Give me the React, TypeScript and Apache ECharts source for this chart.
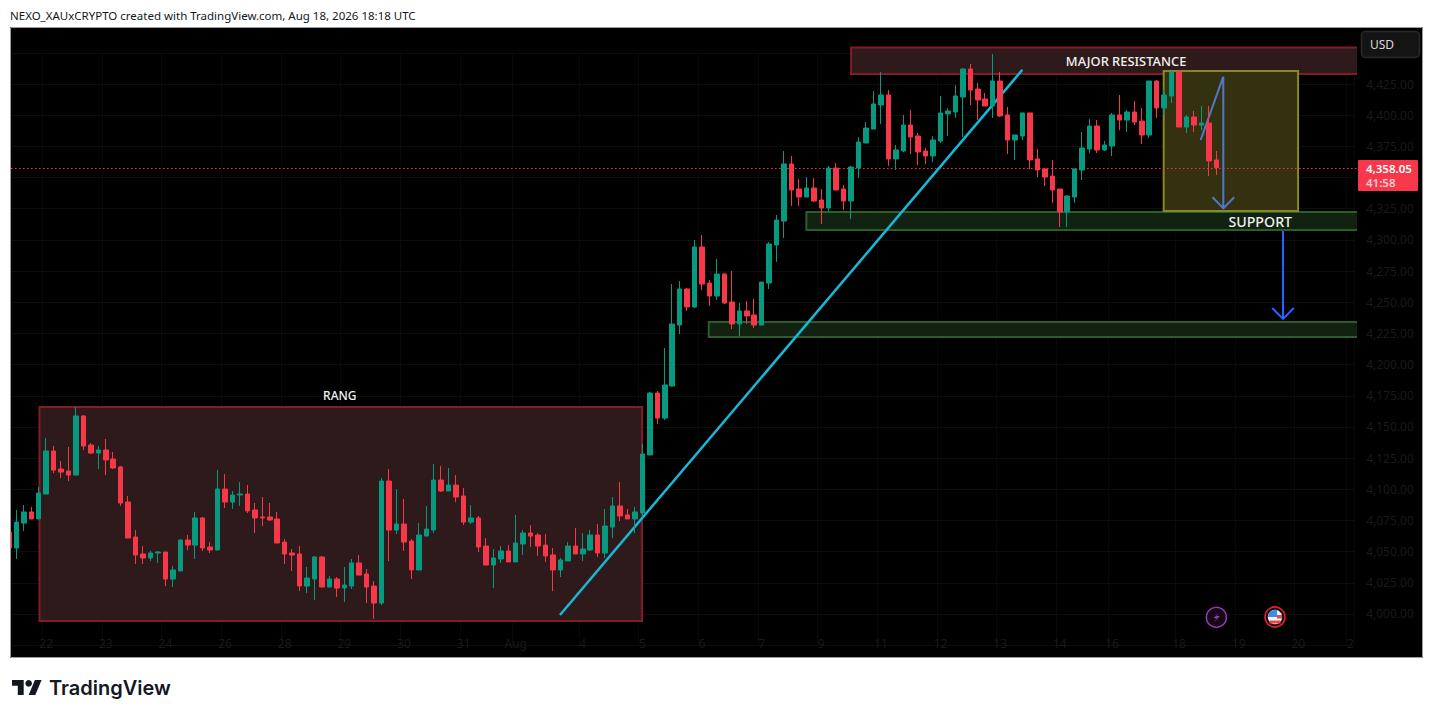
import React, { useEffect, useRef } from "react";
import * as echarts from "echarts";

// [open, close, low, high]
const candlesJuly22to26 = [
  [4065.7,4052.9,4045,4068],[4052.9,4073.7,4044.1,4083.4],[4072.9,4081.8,4066.5,4087.4],[4081.8,4076.2,4076.2,4085.8],
  [4076.2,4097,4076.2,4101.8],[4096.2,4130.7,4096.2,4141.1],[4130.7,4115.4,4113,4134.7],[4116.2,4113.8,4109,4122.7],
  [4114.6,4111.4,4106.6,4133.9],[4111.4,4158.8,4111.4,4166],[4158.8,4134.7,4131.5,4159.6],[4135.5,4129.1,4128.3,4137.1],
  [4129.1,4131.5,4116.2,4134.7],[4131.5,4123.5,4111.4,4140.3],[4124.3,4117.1,4116.2,4129.9],[4117.9,4089,4086.6,4118.7],
  [4089.8,4060.9,4060.9,4094.6],[4061.7,4047.3,4040.1,4067.3],[4048.1,4044.9,4040.1,4054.5],[4044.9,4048.9,4042.5,4050.5],
  [4048.9,4049.7,4040.9,4050.5],[4049.7,4028,4022.4,4049.7],[4028,4035.3,4021.6,4038.5],[4034.5,4059.3,4034.5,4060.1],
  [4059.3,4055.3,4051.3,4063.3],[4055.3,4077,4044.1,4081.8],[4077,4052.9,4050.5,4077.8],[4053.7,4051.3,4048.9,4057.7],
  [4051.3,4100.2,4051.3,4115.4],[4100.2,4089.8,4085,4112.2],[4089.8,4095.4,4084.2,4098.6],[4095.4,4096.2,4086.6,4105.8],
  [4096.2,4082.6,4081,4103.4],[4083.4,4077,4064.9,4089],[4077.8,4077,4070.5,4093.8],[4077.8,4075.4,4074.6,4089],
  [4076.2,4056.9,4056.9,4081.8],[4057.7,4048.1,4040.1,4060.1],[4048.9,4047.3,4034.5,4052.1],[4048.1,4022.4,4018.4,4054.5],
  [4022.4,4028.8,4016.8,4037.7],[4028,4045.7,4011.2,4046.5],[4045.7,4021.6,4021.6,4046.5],[4021.6,4028,4021.6,4030.4],
];
const candlesJuly28toAug5 = [
  [4028,4020.8,4013.6,4029.6],[4020.8,4023.2,4009.6,4037.7],[4022.4,4040.9,4020,4044.1],[4040.9,4031.2,4031.2,4047.3],
  [4032.1,4021.6,4008.8,4036.1],[4022.4,4008.8,3996,4026.4],[4008.8,4106.6,4007.2,4109],[4106.6,4067.3,4042.5,4116.2],
  [4067.3,4072.1,4064.1,4100.2],[4072.1,4057.7,4050.5,4092.2],[4058.5,4035.3,4028,4060.1],[4035.3,4063.3,4035.3,4072.9],
  [4062.5,4068.1,4062.5,4086.6],[4067.3,4107.4,4064.9,4120.3],[4107.4,4098.6,4097.8,4118.7],[4098.6,4103.4,4098.6,4117.1],
  [4103.4,4093.8,4089.8,4111.4],[4094.6,4073.7,4071.3,4101],[4073.7,4077,4072.1,4087.4],[4077,4053.7,4049.7,4078.6],
  [4054.5,4039.3,4039.3,4060.9],[4039.3,4044.9,4020.8,4052.1],[4044.1,4050.5,4040.9,4054.5],[4050.5,4041.7,4041.7,4055.3],
  [4041.7,4056.9,4041.7,4079.4],[4056.1,4064.9,4047.3,4067.3],[4064.9,4062.5,4053.7,4071.3],[4063.3,4054.5,4046.5,4064.9],
  [4055.3,4046.5,4041.7,4064.1],[4047.3,4035.3,4018.4,4052.9],[4035.3,4043.3,4029.6,4044.9],[4042.5,4054.5,4042.5,4057.7],
  [4054.5,4048.1,4048.1,4068.9],[4048.1,4052.1,4042.5,4064.9],[4051.3,4063.3,4050.5,4067.3],[4063.3,4048.9,4045.7,4072.1],
  [4048.9,4070.5,4044.9,4084.2],[4069.7,4086.6,4060.9,4093.8],[4086.6,4078.6,4074.6,4105.8],[4079.4,4076.2,4076.2,4084.2],
  [4076.2,4081.8,4064.9,4085.8],[4081,4128.3,4078,4136.3],
];
const candlesAug5to9 = [
  [4127.5,4177.2,4127.5,4178],[4177.2,4157.1,4152.3,4178.8],[4157.1,4183.6,4155.5,4213.3],[4182.8,4232.5,4182.8,4264.6],
  [4231.7,4260.6,4224.5,4267],[4260.6,4246.2,4243,4261.4],[4246.2,4294.3,4245.4,4299.9],[4294.3,4264.6,4259.8,4303.9],
  [4265.4,4255,4247,4267.8],[4255,4272.6,4251.8,4284.7],[4272.6,4249.4,4248.6,4273.4],[4250.2,4232.6,4228.5,4275.1],
  [4232.6,4243,4222.9,4249.4],[4243,4239,4232.6,4251],[4239.8,4231.7,4229.3,4252.6],[4231.7,4266.2,4231.7,4266.2],
  [4265.4,4296.7,4260.6,4298.3],[4295.9,4315.9,4282.3,4320],[4315.1,4360.9,4301.5,4371.3],[4360.9,4340,4327.2,4367.3],
  [4340.8,4334.4,4327.2,4348.8],[4334.4,4341.6,4334.4,4350.4],[4341.6,4331.2,4330.4,4349.6],[4332,4325.6,4312.7,4340.8],
  [4325.6,4357.6,4323.2,4359.3],[4357.6,4340,4340,4361.7],[4340.8,4331.2,4324,4344],[4331.2,4358.4,4316.7,4359.3],
];
const candlesAug11to18 = [
  [4357.7,4378.5,4349.6,4382.5],[4377.7,4389.7,4377.7,4394.5],[4388.9,4409,4388.9,4419.4],[4408.2,4416.2,4392.9,4434.6],
  [4416.2,4364.9,4359.3,4420.2],[4364.9,4372.1,4356.1,4376.1],[4371.3,4392.1,4370.5,4400.2],[4392.1,4382.5,4368.9,4404.2],
  [4383.3,4370.5,4360.1,4385.7],[4371.3,4367.3,4360.9,4373.7],[4367.3,4380.1,4362.5,4383.3],[4379.3,4401.8,4377.7,4415.4],
  [4401,4403.4,4383.3,4405.8],[4402.6,4415.4,4397.8,4424.2],[4414.6,4437,4382.5,4437.8],[4437,4420.2,4408.2,4441.1],
  [4421,4412.2,4396.1,4425.8],[4413,4407.4,4407.4,4417.8],[4407.4,4427.4,4397.8,4449.1],[4427.4,4399.4,4398.6,4434.6],
  [4400.2,4380.1,4368.9,4406.6],[4380.1,4384.1,4364.1,4384.1],[4383.3,4401.8,4380.1,4401.8],[4401.8,4364.1,4356.9,4401.8],
  [4364.9,4356.1,4350.4,4372.9],[4356.9,4350.4,4343.2,4357.7],[4351.2,4340,4329.6,4364.1],[4340.8,4322.4,4310.3,4340.8],
  [4322.4,4335.2,4310.3,4336],[4334.4,4356.9,4329.6,4356.9],[4356.1,4373.7,4348,4386.5],[4372.9,4391.3,4369.7,4396.9],
  [4391.3,4372.1,4369.7,4396.1],[4372.1,4376.1,4371.3,4379.3],[4375.3,4400.2,4367.3,4401.8],[4400.2,4396.1,4388.1,4416.2],
  [4396.1,4402.6,4386.5,4404.2],[4402.6,4394.5,4392.1,4411.4],[4395.3,4384.1,4376.9,4405.8],[4384.1,4427.4,4381.7,4427.4],
  [4427.4,4405.8,4397.8,4428.2],[4405.8,4416.2,4400.2,4421],[4415.4,4434.6,4409.8,4434.6],[4434.6,4390.5,4390.5,4436.2],
  [4390.5,4398.6,4385.7,4400.2],[4398.6,4392.1,4386.5,4403.4],[4392.1,4393.7,4388.1,4407.4],[4393.7,4363.3,4351.2,4407.4],
  [4364.1,4358.05,4352,4371.3],
];

const xTickIndexes = [5, 13, 21, 29, 37, 45, 53, 61, 68, 77, 85, 93, 101, 109, 117, 125, 133, 141, 148, 157, 165, 173, 180];
const xTickLabels = ["22", "23", "24", "26", "28", "29", "30", "31", "Aug", "4", "5", "6", "7", "9", "11", "12", "13", "14", "16", "18", "19", "20", "2"];
const BAR_SLOTS = 181;
const RIGHT_EDGE = 180.88;

// drawings in bar-index / price coordinates: [x0, price0, x1, price1]
const rangBox = [4.1, 4166, 84.95, 3994.4];
const resistanceBox = [113, 4454.3, RIGHT_EDGE, 4433];
const supportBox = [107, 4322.4, RIGHT_EDGE, 4307.9];
const lowerSupportBox = [93.9, 4234.2, RIGHT_EDGE, 4222.1];
const positionBox = [154.94, 4435.4, 172.97, 4323.2];
const trendLine = [[73.94, 3999.2], [135.97, 4436.3]];
const swingPath = [[159.9, 4380.1], [162.94, 4430.9], [162.94, 4325.3]];
const swingHead = [[161.5, 4334.2], [162.94, 4325.3], [164.4, 4334.2]];
const targetPath = [[170.95, 4307.1], [170.95, 4236.6]];
const targetHead = [[169.5, 4245.4], [170.95, 4236.6], [172.4, 4245.4]];
const priceLine = [[0.2818, 4357.25], [RIGHT_EDGE, 4357.25]];

const RED = "#F7374A";
const GREEN = "#089981";
const TICK_TEXT = "#1a1a1a";
const AXIS_FONT = '"Noto Sans", sans-serif';
const LABEL_FONT = '"Noto Sans", sans-serif';

type Drawing =
  | { kind: "box"; v: number[]; fill: string; stroke: string; lw: number; openRight?: boolean }
  | { kind: "line"; pts: number[][]; stroke: string; lw: number; dash?: number[] }
  | { kind: "text"; at: number[]; text: string; size: number };

const drawings: Drawing[] = [
  { kind: "box", v: rangBox, fill: "#2F1A1B", stroke: "#801D26", lw: 2 },
  { kind: "box", v: resistanceBox, fill: "#2F1A1B", stroke: "#801D26", lw: 2, openRight: true },
  { kind: "box", v: supportBox, fill: "#112210", stroke: "#2B5E2A", lw: 2, openRight: true },
  { kind: "box", v: lowerSupportBox, fill: "#112210", stroke: "#2B5E2A", lw: 2, openRight: true },
  { kind: "box", v: positionBox, fill: "#33310F", stroke: "#8A8727", lw: 2 },
  { kind: "line", pts: priceLine, stroke: "#FF2E44", lw: 1, dash: [1.6, 2.4] },
  { kind: "line", pts: trendLine, stroke: "#17B8D8", lw: 2.5 },
  { kind: "line", pts: swingPath, stroke: "#5079CC", lw: 2 },
  { kind: "line", pts: swingHead, stroke: "#5079CC", lw: 2 },
  { kind: "line", pts: targetPath, stroke: "#2962FF", lw: 2 },
  { kind: "line", pts: targetHead, stroke: "#2962FF", lw: 2 },
  { kind: "text", at: [44.4, 4175.5], text: "RANG", size: 12 },
  { kind: "text", at: [149.9, 4443.5], text: "MAJOR RESISTANCE", size: 12.9 },
  { kind: "text", at: [167.9, 4315], text: "SUPPORT", size: 14.2 },
];

function renderDrawing(params: any, api: any) {
  const d = drawings[params.dataIndex];
  if (d.kind === "box") {
    const a = api.coord([d.v[0], d.v[1]]);
    const b = api.coord([d.v[2], d.v[3]]);
    const shape = { x: a[0], y: a[1], width: b[0] - a[0], height: b[1] - a[1] };
    if (d.openRight) {
      return {
        type: "group",
        children: [
          { type: "rect", shape, style: { fill: d.fill } },
          {
            type: "polyline",
            shape: { points: [[b[0], a[1]], [a[0], a[1]], [a[0], b[1]], [b[0], b[1]]] },
            style: { fill: "none", stroke: d.stroke, lineWidth: d.lw },
          },
        ],
      };
    }
    return { type: "rect", shape, style: { fill: d.fill, stroke: d.stroke, lineWidth: d.lw } };
  }
  if (d.kind === "line") {
    return {
      type: "polyline",
      shape: { points: d.pts.map((p) => api.coord(p)) },
      style: { fill: "none", stroke: d.stroke, lineWidth: d.lw, lineDash: d.dash },
    };
  }
  const c = api.coord(d.at);
  return {
    type: "text",
    x: c[0],
    y: c[1],
    style: {
      text: d.text,
      fill: "#F2F2F2",
      font: `500 ${d.size}px ${LABEL_FONT}`,
      align: "center",
      verticalAlign: "middle",
    },
  };
}

const logoPolys = [
  [[12, 680], [23.7, 680], [23.7, 695], [17.8, 695], [17.8, 685.8], [12, 685.8]],
  [[28.7, 695], [35.3, 695], [41.6, 680], [34.9, 680]],
];

export default function App() {
  const ref = useRef<HTMLDivElement>(null);
  useEffect(() => {
    document.body.style.margin = "0";
    document.body.style.background = "#fff";
    const chart = echarts.init(ref.current!, undefined, { renderer: "svg" });
    const candles = [...candlesJuly22to26, ...candlesJuly28toAug5, ...candlesAug5to9, ...candlesAug11to18];
    const categories = Array.from({ length: BAR_SLOTS }, (_, i) => {
      const k = xTickIndexes.indexOf(i);
      return k >= 0 ? xTickLabels[k] : "";
    });
    const isTick = (i: number) => xTickIndexes.indexOf(i) >= 0;
    chart.setOption({
      animation: false,
      backgroundColor: "#fff",
      grid: { left: 5.173, top: 52.85, width: 1349, height: 592.3, containLabel: false },
      xAxis: [
        {
          type: "category",
          data: categories,
          boundaryGap: true,
          axisLine: { show: false },
          axisTick: { show: false },
          axisLabel: {
            interval: 0,
            margin: -8,
            color: TICK_TEXT,
            fontSize: 12,
            fontFamily: AXIS_FONT,
          },
          splitLine: { show: true, interval: (i: number) => isTick(i), lineStyle: { color: "#090909", width: 1 } },
        },
        { type: "value", min: -0.5, max: 180.5, show: false, splitLine: { show: false } },
      ],
      yAxis: {
        type: "value",
        position: "right",
        min: 3975,
        max: 4450,
        interval: 25,
        axisLine: { show: false },
        axisTick: { show: false },
        axisLabel: {
          margin: 12,
          color: TICK_TEXT,
          fontSize: 12,
          fontFamily: AXIS_FONT,
          // 3975 and 4450 sit under the date row and the USD button; 4350 under the price tag
          formatter: (v: number) =>
            v === 3975 || v === 4450 || v === 4350
              ? ""
              : v.toLocaleString("en-US", { minimumFractionDigits: 2, maximumFractionDigits: 2 }),
        },
        splitLine: { show: true, lineStyle: { color: "#0d0d0d", width: 1 } },
      },
      series: [
        {
          type: "custom",
          xAxisIndex: 1,
          yAxisIndex: 0,
          z: 1,
          clip: false,
          silent: true,
          renderItem: renderDrawing,
          data: drawings.map((_, i) => [i, 4200]),
        },
        {
          type: "candlestick",
          xAxisIndex: 0,
          yAxisIndex: 0,
          z: 3,
          barWidth: 5,
          clip: true,
          data: candles,
          itemStyle: { color: GREEN, borderColor: GREEN, color0: RED, borderColor0: RED, borderWidth: 1 },
        },
      ],
      graphic: [
        { type: "rect", z: -1, silent: true, shape: { x: 10, y: 27, width: 1413, height: 631 }, style: { fill: "#000" } },
        { type: "rect", z: 50, silent: true, shape: { x: 0, y: 27, width: 10, height: 631 }, style: { fill: "#fff" } },
        {
          type: "rect",
          z: 51,
          silent: true,
          shape: { x: 10.5, y: 27.5, width: 1412, height: 630 },
          style: { fill: "none", stroke: "#9B9B9B", lineWidth: 1 },
        },
        {
          type: "text",
          z: 51,
          x: 10,
          y: 15,
          style: {
            text: "NEXO_XAUxCRYPTO created with TradingView.com, Aug 18, 2026 18:18 UTC",
            fill: "#131722",
            font: '11.5px "Noto Sans", sans-serif',
            verticalAlign: "middle",
          },
        },
        {
          type: "rect",
          z: 51,
          shape: { x: 1361.5, y: 31.5, width: 58, height: 26, r: 4 },
          style: { fill: "#141414", stroke: "#2A2A2A", lineWidth: 1.5 },
        },
        { type: "text", z: 52, x: 1370, y: 44.5, style: { text: "USD", fill: "#DBDBDB", font: `12px ${AXIS_FONT}`, verticalAlign: "middle" } },
        { type: "rect", z: 51, shape: { x: 1358, y: 160, width: 60, height: 31, r: 1 }, style: { fill: RED } },
        { type: "text", z: 52, x: 1366, y: 168.5, style: { text: "4,358.05", fill: "#fff", font: `600 11.5px ${AXIS_FONT}`, verticalAlign: "middle", lineHeight: 12 } },
        { type: "text", z: 52, x: 1366, y: 182.5, style: { text: "41:58", fill: "#FFD0D5", font: `600 11.5px ${AXIS_FONT}`, verticalAlign: "middle", lineHeight: 12 } },
        { type: "circle", z: 51, shape: { cx: 1216.4, cy: 617.3, r: 10 }, style: { fill: "#160A1A", stroke: "#943AAE", lineWidth: 1.5 } },
        {
          type: "polygon",
          z: 52,
          shape: { points: [[1219.3, 612.7], [1213.3, 618.3], [1216.7, 618.3], [1214, 622.3], [1220, 616], [1216.7, 616]] },
          style: { fill: "#943AAE" },
        },
        { type: "circle", z: 51, shape: { cx: 1275, cy: 617, r: 10 }, style: { fill: "#111", stroke: "#E5202E", lineWidth: 1.6 } },
        { type: "circle", z: 52, shape: { cx: 1275, cy: 617, r: 7.2 }, style: { fill: "#F5F5F5" } },
        {
          type: "polygon",
          z: 53,
          shape: { points: [[1268, 617], [1268.5, 614], [1270, 612], [1272.5, 610.3], [1275, 609.9], [1277, 610.1], [1277, 617]] },
          style: { fill: "#3D8BEF" },
        },
        { type: "rect", z: 53, shape: { x: 1277, y: 615, width: 5, height: 3.5 }, style: { fill: "#E8484E" } },
        { type: "rect", z: 53, shape: { x: 1269.5, y: 620.5, width: 11, height: 3 }, style: { fill: "#E8484E" } },
        ...logoPolys.map((points) => ({ type: "polygon", z: 51, shape: { points }, style: { fill: "#131722" } })),
        { type: "circle", z: 51, shape: { cx: 28.67, cy: 683.3, r: 3.33 }, style: { fill: "#131722" } },
        {
          type: "text",
          z: 51,
          x: 49,
          y: 688,
          style: { text: "TradingView", fill: "#131722", font: '600 20px Inter, "Noto Sans", sans-serif', verticalAlign: "middle" },
        },
      ],
    });
    return () => chart.dispose();
  }, []);
  return <div ref={ref} style={{ width: 1433, height: 718 }} />;
}
